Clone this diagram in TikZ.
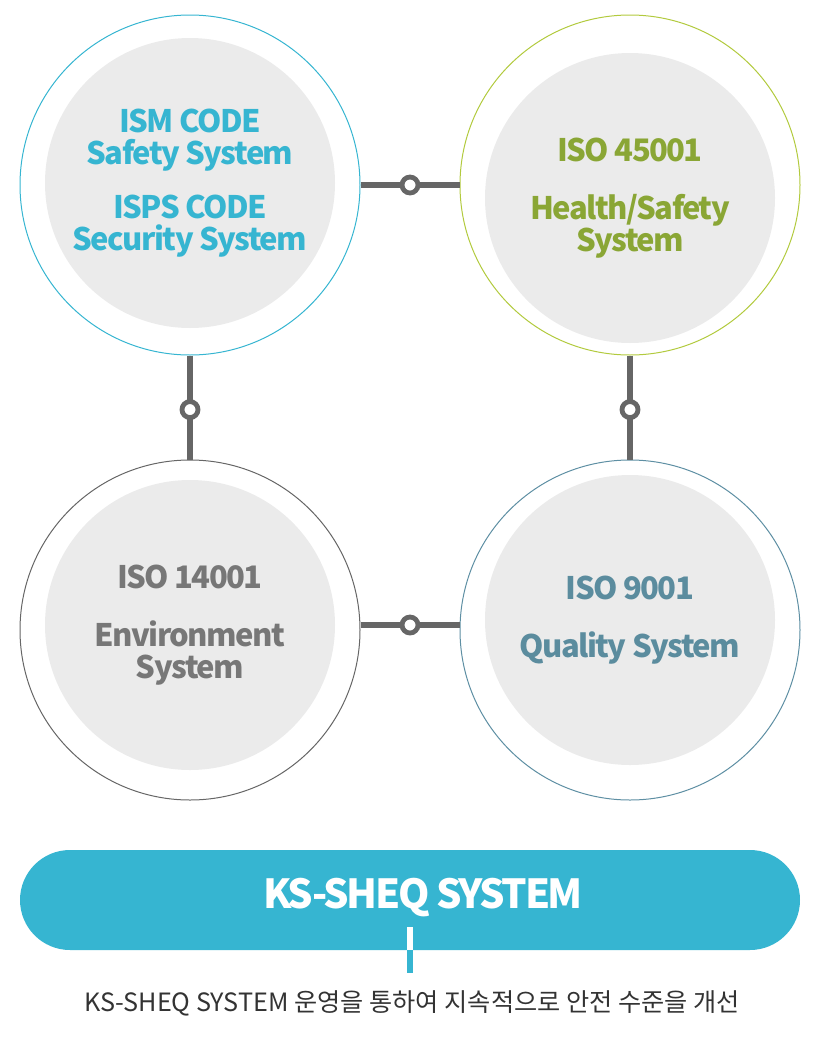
\documentclass[tikz,border=0pt]{standalone}
\usepackage{fontspec}
\setmainfont{Noto Sans CJK KR}
\usetikzlibrary{positioning}
\definecolor{ismcyan}{HTML}{36B5D1}
\definecolor{isogreen}{HTML}{B2CA3E}
\definecolor{isogreentext}{HTML}{8AA635}
\definecolor{envgray}{HTML}{666666}
\definecolor{envgraytext}{HTML}{777777}
\definecolor{qualblue}{HTML}{5E8FA3}
\definecolor{qualbluetext}{HTML}{5B8C9E}
\definecolor{innergray}{HTML}{EBEBEB}
\definecolor{linkgray}{HTML}{666666}
\definecolor{captiongray}{HTML}{333333}
\tikzset{
  ring/.style={circle, draw, line width=0.5pt, minimum size=170pt, inner sep=0pt},
  core/.style={circle, fill=innergray, minimum size=145pt, inner sep=0pt, align=center, font=\bfseries\fontsize{15.5}{16}\selectfont\addfontfeatures{LetterSpace=-5}},
  link/.style={line width=3pt, draw=linkgray},
  joint/.style={circle, draw=linkgray, fill=white, line width=2.4pt, minimum size=8pt, inner sep=0pt},
  banner/.style={rounded corners=25pt, fill=ismcyan, minimum width=390pt, minimum height=50pt, text=white},
  bannertext/.style={text=white, font=\bfseries\fontsize{20}{21}\selectfont\addfontfeatures{LetterSpace=-6}}
}
\begin{document}
\begin{tikzpicture}[x=0.5pt, y=-0.5pt]
  \useasboundingbox (0,0) rectangle (820,1050);
  % Outer rings
  \node[ring, draw=ismcyan] (ism) at (190,185) {};
  \node[ring, draw=isogreen] (iso45) at (630,185) {};
  \node[ring, draw=envgray] (iso14) at (190,630) {};
  \node[ring, draw=qualblue] (iso9) at (630,630) {};
  % Inner discs with the system names
  \node[core, text=ismcyan] (ismtext) at (190,183) {ISM CODE\\Safety System\\[0.7em]ISPS CODE\\Security System};
  \node[core, text=isogreentext] (iso45text) at (630,198) {ISO 45001\\[0.85em]Health/Safety\\System};
  \node[core, text=envgraytext] (iso14text) at (190,625) {ISO 14001\\[0.85em]Environment\\System};
  \node[core, text=qualbluetext] (iso9text) at (630,620) {ISO 9001\\[0.85em]Quality System};
  % Links between the rings
  \draw[link] (ism.east) -- node[joint] (j1) {} (iso45.west);
  \draw[link] (ism.south) -- node[joint, pos=0.52] (j2) {} (iso14.north);
  \draw[link] (iso45.south) -- node[joint, pos=0.52] (j3) {} (iso9.north);
  \draw[link] ([yshift=2.5pt]iso14.east) -- node[joint] (j4) {} ([yshift=2.5pt]iso9.west);
  % KS-SHEQ banner
  \node[banner] (sheq) at (410,900) {};
  \node[bannertext] (sheqtext) at (423,898) {KS-SHEQ SYSTEM};
  \coordinate (stemtop) at (410,927);
  \coordinate (stemend) at (410,973);
  \draw[line width=3pt, white] (stemtop) -- (sheq.south);
  \draw[line width=3pt, ismcyan] (sheq.south) -- (stemend);
  \node[text=captiongray, font=\fontsize{12.6}{13}\selectfont] (caption) at (412,1003) {KS-SHEQ SYSTEM 운영을 통하여 지속적으로 안전 수준을 개선};
\end{tikzpicture}
\end{document}
